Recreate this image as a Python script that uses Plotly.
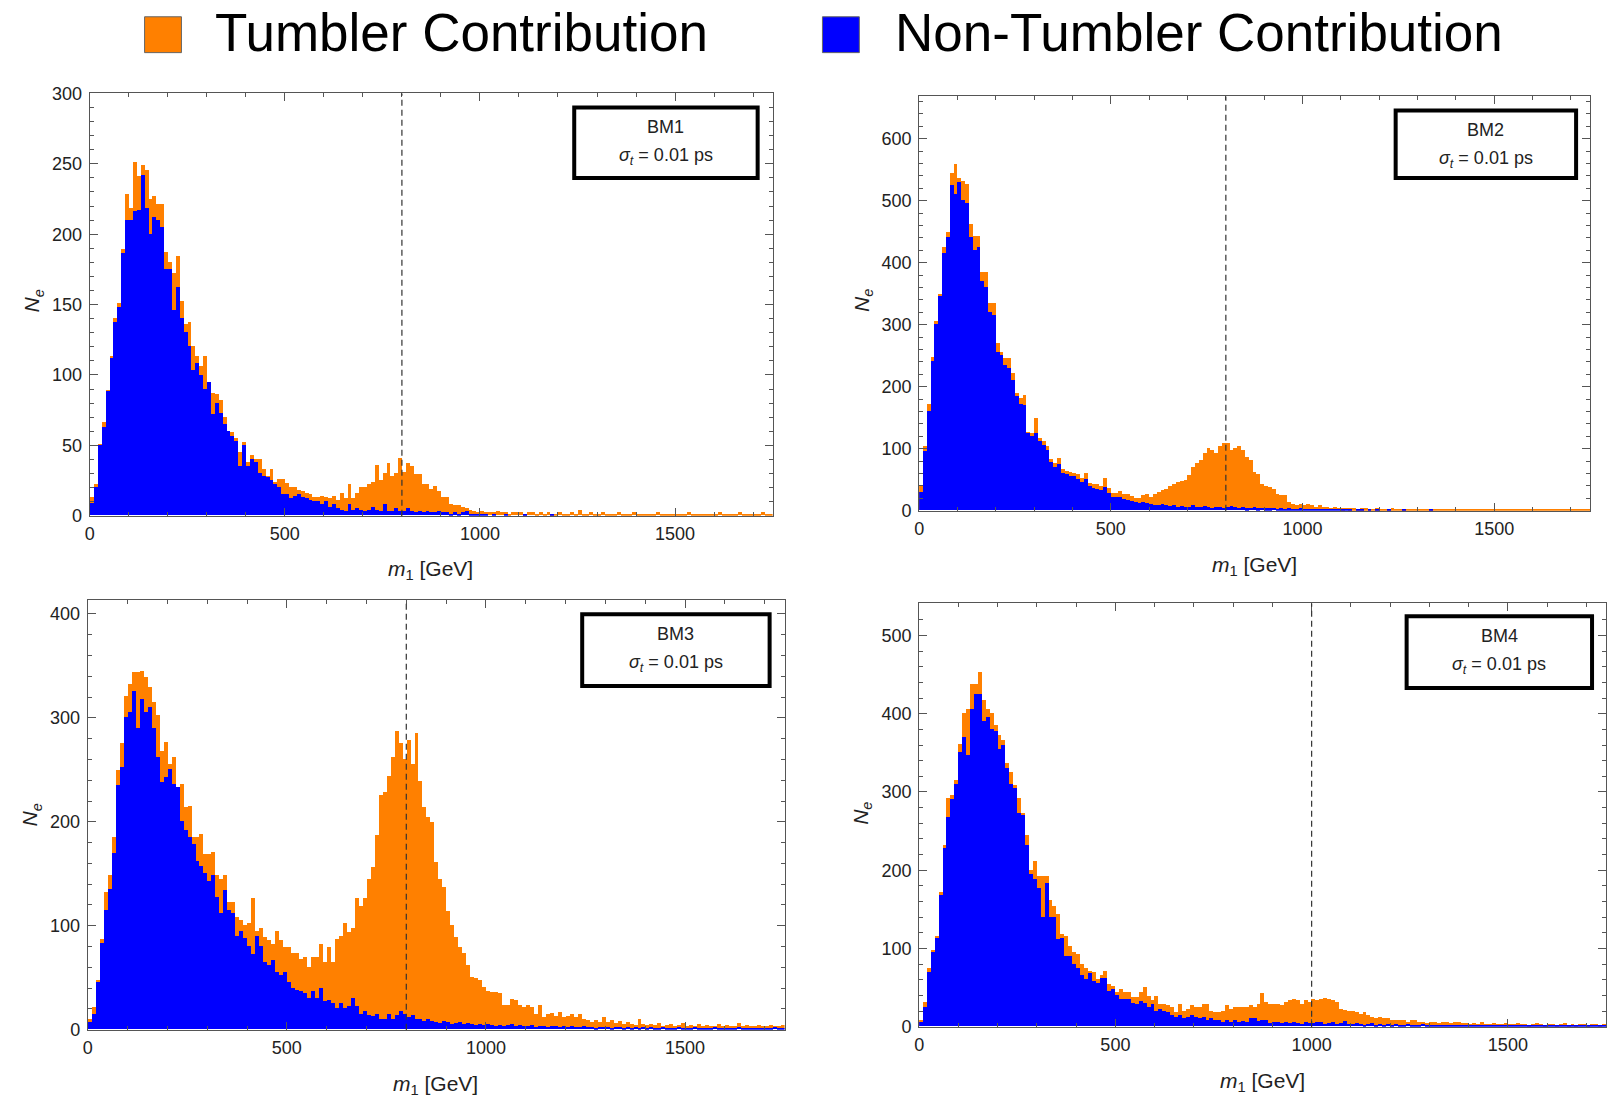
import plotly.graph_objects as go

# ---------------- data (events per 10 GeV bin, 0 .. 1750 GeV) ----------------
BIN_WIDTH = 10
N_BINS = 175
bin_centers = [BIN_WIDTH * i + BIN_WIDTH / 2 for i in range(N_BINS)]

bm1_total = [
    13, 22, 51, 66, 89, 113, 140, 151, 189, 228,
    218, 251, 241, 249, 245, 225, 227, 221, 221, 187,
    180, 172, 184, 152, 136, 137, 120, 113, 106, 113,
    95, 87, 86, 82, 70, 60, 59, 55, 45, 52,
    38, 43, 40, 40, 33, 28, 33, 24, 26, 26,
    23, 20, 20, 18, 17, 16, 15, 13, 13, 14,
    13, 12, 14, 11, 16, 12, 22, 12, 16, 20,
    20, 22, 24, 36, 25, 30, 37, 28, 30, 41,
    31, 37, 35, 29, 29, 22, 22, 19, 21, 17,
    13, 13, 8, 7, 7, 6, 5, 4, 3, 2,
    3, 2, 2, 2, 3, 2, 2, 1, 2, 2,
    2, 1, 2, 2, 1, 2, 1, 2, 1, 1,
    2, 1, 1, 2, 1, 4, 1, 1, 2, 1,
    1, 2, 1, 1, 1, 2, 1, 1, 1, 2,
    1, 1, 1, 1, 1, 2, 1, 1, 1, 1,
    1, 1, 1, 2, 1, 1, 1, 1, 1, 1,
    1, 2, 1, 1, 1, 1, 2, 1, 1, 1,
    1, 1, 2, 1, 1,
]
bm1_nontumbler = [
    9, 20, 50, 63, 88, 112, 137, 148, 186, 210,
    210, 216, 217, 242, 218, 200, 212, 210, 205, 175,
    175, 146, 162, 140, 130, 120, 103, 108, 100, 90,
    95, 72, 80, 73, 65, 60, 56, 53, 35, 50,
    35, 40, 38, 30, 28, 27, 25, 22, 20, 15,
    15, 12, 14, 15, 13, 12, 11, 10, 10, 8,
    10, 6, 8, 5, 4, 3, 8, 4, 5, 4,
    3, 4, 6, 4, 3, 8, 3, 3, 5, 3,
    3, 5, 3, 2, 3, 2, 3, 2, 2, 3,
    2, 2, 1, 2, 1, 2, 3, 1, 1, 1,
    1, 1, 0, 1, 0, 0, 1, 0, 0, 0,
    0, 1, 0, 0, 0, 0, 0, 0, 1, 0,
    0, 0, 0, 0, 0, 0, 0, 0, 0, 0,
    0, 0, 0, 0, 0, 0, 0, 0, 0, 0,
    0, 0, 0, 0, 0, 0, 0, 0, 0, 0,
    0, 0, 0, 0, 0, 0, 0, 0, 0, 0,
    0, 0, 0, 0, 0, 0, 0, 0, 0, 0,
    0, 0, 0, 0, 0,
]

bm2_total = [
    40, 103, 172, 248, 306, 349, 424, 448, 544, 558,
    536, 531, 526, 461, 443, 443, 384, 384, 334, 334,
    269, 256, 245, 245, 221, 189, 181, 186, 127, 125,
    149, 117, 111, 103, 82, 76, 84, 66, 63, 62,
    60, 58, 52, 60, 44, 42, 42, 39, 52, 36,
    28, 28, 31, 26, 26, 23, 20, 20, 24, 27,
    22, 27, 30, 32, 35, 39, 43, 46, 47, 49,
    57, 70, 76, 81, 92, 100, 97, 92, 103, 108,
    108, 97, 100, 104, 97, 86, 81, 62, 59, 43,
    40, 38, 35, 27, 24, 24, 13, 11, 8, 10,
    8, 11, 8, 5, 8, 5, 6, 4, 6, 4,
    3, 4, 3, 3, 2, 3, 3, 2, 2, 3,
    2, 2, 2, 3, 2, 2, 2, 2, 1, 2,
    2, 2, 1, 2, 2, 1, 2, 2, 1, 2,
    1, 2, 2, 1, 1, 2, 1, 2, 1, 1,
    2, 1, 1, 2, 1, 1, 1, 2, 1, 1,
    1, 1, 2, 1, 1, 1, 1, 2, 1, 1,
    1, 2, 1, 1, 1,
]
bm2_nontumbler = [
    30, 95, 160, 240, 300, 345, 415, 440, 525, 510,
    530, 500, 495, 440, 420, 425, 370, 360, 320, 315,
    255, 250, 235, 230, 210, 185, 172, 170, 124, 120,
    125, 112, 105, 97, 78, 70, 75, 60, 58, 55,
    55, 50, 45, 50, 40, 36, 35, 32, 38, 28,
    22, 22, 22, 18, 17, 15, 13, 12, 13, 12,
    10, 9, 8, 10, 8, 7, 8, 6, 7, 5,
    6, 8, 5, 6, 7, 5, 4, 6, 5, 4,
    6, 7, 5, 4, 5, 3, 4, 5, 3, 4,
    3, 3, 4, 2, 3, 2, 3, 2, 2, 3,
    2, 2, 1, 2, 1, 1, 2, 1, 1, 1,
    1, 1, 1, 0, 1, 1, 0, 1, 0, 1,
    0, 0, 1, 0, 0, 0, 1, 0, 0, 0,
    0, 0, 0, 1, 0, 0, 0, 0, 0, 0,
    0, 0, 0, 0, 0, 0, 0, 0, 0, 0,
    0, 0, 0, 0, 0, 0, 0, 0, 0, 0,
    0, 0, 0, 0, 0, 0, 0, 0, 0, 0,
    0, 0, 0, 0, 0,
]

bm3_total = [
    10, 21, 47, 87, 132, 148, 185, 249, 275, 321,
    332, 344, 344, 345, 339, 329, 315, 302, 268, 276,
    255, 262, 233, 236, 214, 215, 185, 185, 188, 169,
    169, 171, 148, 145, 148, 122, 122, 108, 105, 100,
    102, 126, 95, 97, 89, 86, 82, 95, 86, 79,
    79, 73, 73, 68, 70, 60, 70, 70, 82, 65,
    79, 65, 87, 90, 102, 94, 97, 126, 119, 126,
    145, 156, 187, 225, 228, 244, 262, 287, 275, 260,
    278, 255, 285, 239, 214, 204, 199, 161, 145, 137,
    114, 100, 89, 79, 73, 62, 50, 49, 47, 41,
    37, 36, 36, 35, 23, 23, 29, 28, 23, 21,
    23, 21, 15, 23, 12, 15, 16, 13, 17, 12,
    13, 15, 12, 15, 10, 9, 7, 9, 7, 12,
    7, 9, 6, 8, 5, 7, 5, 4, 10, 5,
    4, 5, 4, 6, 3, 4, 5, 3, 4, 6,
    3, 4, 3, 5, 3, 4, 3, 3, 5, 3,
    4, 3, 3, 6, 3, 4, 3, 3, 4, 3,
    3, 4, 3, 3, 4,
]
bm3_nontumbler = [
    7, 15, 45, 83, 115, 135, 170, 235, 252, 300,
    305, 325, 290, 318, 305, 310, 290, 262, 238, 243,
    250, 236, 233, 200, 192, 185, 178, 162, 157, 150,
    143, 148, 127, 112, 134, 115, 112, 90, 95, 88,
    80, 72, 90, 80, 65, 62, 67, 55, 52, 55,
    45, 40, 38, 37, 35, 30, 37, 30, 40, 27,
    28, 25, 20, 25, 20, 22, 30, 22, 15, 18,
    14, 13, 15, 10, 10, 15, 10, 14, 18, 15,
    12, 14, 10, 10, 8, 10, 8, 7, 6, 8,
    7, 5, 6, 7, 5, 6, 5, 4, 5, 4,
    5, 4, 3, 4, 3, 4, 5, 3, 4, 3,
    3, 4, 2, 3, 3, 2, 3, 3, 2, 3,
    2, 3, 2, 2, 3, 2, 2, 1, 2, 2,
    2, 1, 2, 2, 1, 2, 1, 2, 1, 2,
    1, 2, 1, 1, 2, 1, 1, 1, 2, 1,
    1, 1, 2, 1, 1, 1, 1, 2, 1, 1,
    1, 1, 1, 2, 1, 1, 1, 1, 1, 1,
    1, 1, 2, 1, 1,
]

bm4_total = [
    8, 31, 75, 97, 116, 171, 232, 292, 296, 315,
    361, 400, 406, 438, 438, 453, 417, 406, 400, 385,
    372, 366, 336, 325, 308, 292, 272, 245, 200, 211,
    192, 192, 192, 162, 154, 143, 118, 116, 103, 95,
    92, 80, 75, 71, 69, 61, 65, 71, 54, 52,
    44, 48, 44, 44, 37, 37, 44, 50, 39, 33,
    39, 29, 29, 27, 25, 18, 29, 20, 22, 27,
    25, 25, 29, 29, 20, 18, 18, 20, 27, 22,
    25, 25, 25, 25, 27, 25, 29, 42, 31, 29,
    29, 29, 27, 31, 34, 35, 33, 29, 33, 31,
    35, 33, 35, 36, 35, 33, 31, 22, 21, 20,
    20, 18, 16, 18, 14, 12, 11, 12, 10, 10,
    8, 8, 8, 8, 6, 8, 8, 6, 6, 4,
    6, 6, 4, 6, 5, 4, 6, 5, 4, 4,
    3, 4, 3, 5, 3, 3, 4, 3, 3, 4,
    3, 3, 4, 3, 3, 2, 3, 4, 3, 2,
    3, 3, 2, 3, 4, 2, 3, 2, 3, 3,
    2, 3, 3, 2, 3,
]
bm4_nontumbler = [
    5, 25, 70, 95, 113, 168, 228, 268, 290, 310,
    350, 370, 347, 405, 425, 425, 390, 395, 380, 378,
    355, 360, 330, 310, 305, 272, 270, 232, 195, 188,
    177, 140, 183, 140, 140, 112, 113, 90, 90, 80,
    75, 65, 60, 68, 58, 55, 62, 62, 45, 48,
    40, 35, 35, 35, 30, 28, 32, 30, 25, 28,
    20, 22, 20, 18, 15, 12, 15, 10, 12, 15,
    12, 10, 12, 8, 10, 8, 8, 6, 8, 6,
    8, 5, 7, 6, 10, 10, 7, 8, 8, 4,
    5, 5, 4, 6, 4, 5, 4, 3, 5, 4,
    4, 5, 6, 3, 4, 5, 3, 4, 7, 3,
    3, 4, 3, 2, 3, 4, 2, 3, 2, 3,
    2, 3, 2, 2, 3, 2, 2, 2, 3, 2,
    2, 2, 1, 2, 2, 1, 2, 1, 2, 1,
    1, 2, 1, 1, 2, 1, 1, 1, 1, 1,
    1, 1, 1, 2, 1, 1, 1, 1, 1, 1,
    1, 1, 1, 1, 1, 2, 1, 1, 1, 1,
    1, 1, 1, 1, 1,
]

benchmark_names = ["BM1", "BM2", "BM3", "BM4"]
resonance_mass = [800, 800, 800, 1000]
y_max = [300, 668, 413, 541]
y_major = [50, 100, 100, 100]
y_minor = [10, 20, 20, 20]
legend_labels = ["Tumbler Contribution", "Non-Tumbler Contribution"]
sigma_label = "<i>σ</i><sub><i>t</i></sub> = 0.01 ps"

# ---------------- styling / layout (pixel geometry) ----------------
W, H = 1607, 1100
ORANGE = "#FF8000"
BLUE = "#0000FF"
FRAME = "#555555"
FONT = "Liberation Sans, Arial, sans-serif"

# the captured page is offset/squeezed vertically; map target pixel rows
Y_OFF, Y_SCALE = 8.2, 0.9858


def fx(px):
    return px / W


def fy(py):
    return 1 - ((py - Y_OFF) / Y_SCALE) / H


# plot areas: (left, top, right, bottom) in target pixels
areas = [
    (85, 92, 770, 516),
    (917, 95, 1590, 511),
    (83, 601, 782, 1032),
    (917, 604, 1606, 1029),
]
# info boxes (left, top, right, bottom)
boxes = [
    (569, 104, 757, 179),
    (1393, 107, 1578, 179),
    (577, 613, 769, 689),
    (1404, 615, 1594, 691),
]
x_titles = [(427, 570), (1253, 566), (432, 1088), (1261, 1085)]
y_titles = [(28, 300), (860, 300), (26, 816), (859, 815)]

totals = [bm1_total, bm2_total, bm3_total, bm4_total]
nons = [bm1_nontumbler, bm2_nontumbler, bm3_nontumbler, bm4_nontumbler]

fig = go.Figure()
layout = dict(
    width=W,
    height=H,
    autosize=False,
    margin=dict(l=0, r=0, t=0, b=0),
    paper_bgcolor="white",
    plot_bgcolor="white",
    barmode="overlay",
    bargap=0,
    showlegend=False,
    font=dict(family=FONT, color="#222222"),
)
shapes = []
annotations = []

for i in range(4):
    n = i + 1
    xa = "x" if n == 1 else f"x{n}"
    ya = "y" if n == 1 else f"y{n}"
    l, t, r, b = areas[i]

    fig.add_trace(go.Bar(
        x=bin_centers, y=totals[i], width=BIN_WIDTH,
        marker=dict(color=ORANGE, line=dict(width=0)),
        xaxis=xa, yaxis=ya, name=legend_labels[0],
    ))
    fig.add_trace(go.Bar(
        x=bin_centers, y=nons[i], width=BIN_WIDTH,
        marker=dict(color=BLUE, line=dict(width=0)),
        xaxis=xa, yaxis=ya, name=legend_labels[1],
    ))

    common = dict(
        showline=True, linecolor=FRAME, linewidth=1, mirror="allticks",
        ticks="inside", ticklen=8, tickwidth=1, tickcolor=FRAME,
        showgrid=False, zeroline=False,
        tickfont=dict(family=FONT, size=18, color="#222222"),
    )
    layout["xaxis" if n == 1 else f"xaxis{n}"] = dict(
        common,
        domain=[fx(l), fx(r)], range=[0, N_BINS * BIN_WIDTH],
        anchor=ya, tickmode="linear", tick0=0, dtick=500,
        minor=dict(ticks="inside", ticklen=4, tickcolor=FRAME, dtick=100, tick0=0),
        ticklabelstandoff=2,
    )
    layout["yaxis" if n == 1 else f"yaxis{n}"] = dict(
        common,
        domain=[fy(b), fy(t)], range=[0, y_max[i]],
        anchor=xa, tickmode="linear", tick0=0, dtick=y_major[i],
        minor=dict(ticks="inside", ticklen=4, tickcolor=FRAME, dtick=y_minor[i], tick0=0),
        ticklabelstandoff=3,
    )

    # dashed line at the resonance mass
    shapes.append(dict(
        type="line", xref=xa, yref=f"{ya} domain",
        x0=resonance_mass[i], x1=resonance_mass[i], y0=0, y1=1,
        line=dict(color="#333333", width=1.2, dash="6px,4px"),
    ))

    # info box
    bl, bt, br, bb = boxes[i]
    shapes.append(dict(
        type="rect", xref="paper", yref="paper",
        x0=fx(bl + 2), x1=fx(br - 2), y0=fy(bb - 2), y1=fy(bt + 2),
        line=dict(color="black", width=4), fillcolor="white",
    ))
    cx = (bl + br) / 2
    annotations.append(dict(
        x=fx(cx), y=fy(bt + 22), xref="paper", yref="paper",
        text=benchmark_names[i], showarrow=False,
        font=dict(family=FONT, size=18, color="#222222"),
        xanchor="center", yanchor="middle",
    ))
    annotations.append(dict(
        x=fx(cx), y=fy(bt + 51), xref="paper", yref="paper",
        text=sigma_label, showarrow=False,
        font=dict(family=FONT, size=18, color="#222222"),
        xanchor="center", yanchor="middle",
    ))

    # axis titles
    tx, ty = x_titles[i]
    annotations.append(dict(
        x=fx(tx), y=fy(ty), xref="paper", yref="paper",
        text="<i>m</i><sub>1</sub> [GeV]", showarrow=False,
        font=dict(family=FONT, size=21, color="#222222"),
        xanchor="center", yanchor="middle",
    ))
    sx, sy = y_titles[i]
    annotations.append(dict(
        x=fx(sx), y=fy(sy), xref="paper", yref="paper",
        text="<i>N</i><sub><i>e</i></sub>", showarrow=False, textangle=-90,
        font=dict(family=FONT, size=21, color="#222222"),
        xanchor="center", yanchor="middle",
    ))

# top legend
for (sq_l, txt_l), col, lab in zip([(140, 210), (820, 892)], [ORANGE, BLUE], legend_labels):
    shapes.append(dict(
        type="rect", xref="paper", yref="paper",
        x0=fx(sq_l), x1=fx(sq_l + 37), y0=fy(51), y1=fy(15),
        line=dict(color="#666666", width=1), fillcolor=col,
    ))
    annotations.append(dict(
        x=fx(txt_l), y=fy(31), xref="paper", yref="paper",
        text=lab, showarrow=False, borderpad=0,
        font=dict(family=FONT, size=53, color="black"),
        xanchor="left", yanchor="middle",
    ))

layout["shapes"] = shapes
layout["annotations"] = annotations
fig.update_layout(**layout)
fig.write_html("out.html")
